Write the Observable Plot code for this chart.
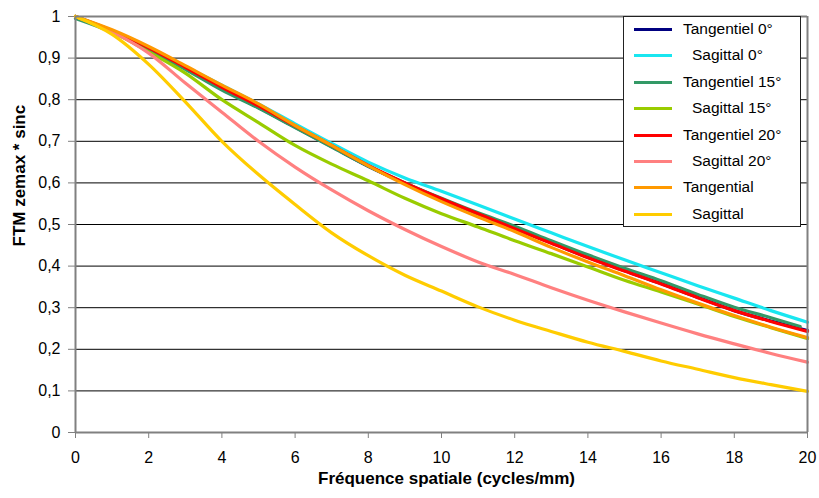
<!DOCTYPE html>
<html><head><meta charset="utf-8">
<script src="https://cdn.jsdelivr.net/npm/d3@7"></script>
<script src="https://cdn.jsdelivr.net/npm/@observablehq/plot@0.6"></script>
<style>
body{margin:0;background:#fff;font-family:"Liberation Sans",Arial,sans-serif;}
#wrap{position:relative;width:819px;height:498px;overflow:hidden;}
#legend{position:absolute;left:623px;top:16px;width:178px;height:211px;background:#fff;border:1px solid #222;box-sizing:border-box;}
.item{position:absolute;left:0;height:20px;width:176px;}
.item .sw{position:absolute;left:10px;top:9px;width:38px;height:3px;}
.item .lb{position:absolute;top:1px;font-size:15.5px;color:#000;white-space:pre;}
</style></head><body><div id="wrap"></div>
<script>
const freq    = [0,1,2,3,4,5,6,7,8,9,10,11,12,13,14,15,16,17,18,19,20];
const freqT15 = [0,1,2,3,4,5,6,7,8,9,10,11,12,13,14,15,16,17,18,19,19.8];

const seriesNames  = ["Tangentiel 0°","Sagittal 0°","Tangentiel 15°","Sagittal 15°","Tangentiel 20°","Sagittal 20°","Tangential","Sagittal"];
const seriesColors = ["#000080","#19E6F0","#339966","#99CC00","#FF0000","#FF8080","#FF9900","#FFCC00"];
const legendIndent = [0,1,0,1,0,1,0,1];

const tangentiel0  = [1,0.964,0.922,0.875,0.826,0.781,0.734,0.687,0.640,0.599,0.561,0.525,0.491,0.456,0.421,0.389,0.358,0.325,0.293,0.268,0.245];
const sagittal0    = [1,0.966,0.925,0.880,0.835,0.790,0.742,0.695,0.650,0.612,0.580,0.547,0.513,0.480,0.447,0.415,0.384,0.353,0.323,0.293,0.265];
const tangentiel15 = [0.995,0.962,0.920,0.873,0.823,0.780,0.733,0.686,0.640,0.600,0.563,0.528,0.496,0.461,0.427,0.395,0.365,0.332,0.301,0.276,0.255];
const sagittal15   = [1,0.963,0.915,0.864,0.800,0.745,0.690,0.645,0.605,0.563,0.526,0.494,0.461,0.430,0.398,0.366,0.338,0.309,0.279,0.252,0.226];
const tangentiel20 = [1,0.966,0.925,0.878,0.830,0.785,0.737,0.690,0.642,0.600,0.562,0.526,0.490,0.455,0.420,0.388,0.357,0.324,0.293,0.267,0.243];
const sagittal20   = [1,0.963,0.912,0.840,0.770,0.700,0.638,0.583,0.533,0.488,0.447,0.410,0.380,0.348,0.318,0.290,0.263,0.237,0.213,0.190,0.169];
const tangential   = [1,0.968,0.928,0.882,0.835,0.790,0.738,0.690,0.641,0.596,0.555,0.518,0.483,0.445,0.410,0.377,0.343,0.311,0.281,0.253,0.228];
const sagittal     = [1,0.957,0.885,0.795,0.700,0.620,0.548,0.480,0.425,0.378,0.340,0.302,0.270,0.243,0.217,0.195,0.172,0.152,0.132,0.115,0.099];

const yTicks = [0,0.1,0.2,0.3,0.4,0.5,0.6,0.7,0.8,0.9,1];
const xTicks = [0,2,4,6,8,10,12,14,16,18,20];

const seriesValues = [tangentiel0,sagittal0,tangentiel15,sagittal15,tangentiel20,sagittal20,tangential,sagittal];
const seriesX = [freq,freq,freqT15,freq,freq,freq,freq,freq];

const rows = [];
seriesNames.forEach((name,i)=>{
  seriesValues[i].forEach((v,j)=>rows.push({name, x: seriesX[i][j], y: v}));
});

const fmt = d => String(d).replace(".", ",");

const chart = Plot.plot({
  width: 819, height: 498,
  marginLeft: 75, marginRight: 12, marginTop: 16, marginBottom: 66,
  style: {fontFamily: '"Liberation Sans", Arial, sans-serif', fontSize: "16px", background: "#fff", color: "#000"},
  x: {domain: [0,20]},
  y: {domain: [0,1]},
  color: {domain: seriesNames, range: seriesColors},
  marks: [
    Plot.ruleY(yTicks.filter(d => d > 0 && d < 1), {stroke: "#000", strokeWidth: 1}),
    Plot.axisY({ticks: yTicks, tickFormat: fmt, tickSize: 7, tickPadding: 8, stroke: "#808080", label: null, fontSize: 16}),
    Plot.axisX({ticks: xTicks, tickSize: 6, tickPadding: 13, stroke: "#808080", label: null, fontSize: 16}),
    Plot.text(["FTM zemax * sinc"], {frameAnchor: "left", dx: -56, dy: 22, rotate: -90, fontWeight: "bold", fontSize: 17}),
    Plot.text(["Fréquence spatiale (cycles/mm)"], {frameAnchor: "bottom", dx: 5, dy: 51, fontWeight: "bold", fontSize: 17}),
    Plot.line(rows, {x: "x", y: "y", z: "name", stroke: "name", strokeWidth: 3.2, curve: "monotone-x"}),
    Plot.ruleY([1], {stroke: "#808080", strokeWidth: 2}),
    Plot.ruleX([20], {stroke: "#808080", strokeWidth: 2}),
    Plot.ruleX([0], {stroke: "#808080", strokeWidth: 2}),
    Plot.ruleY([0], {stroke: "#808080", strokeWidth: 2})
  ]
});

const wrap = document.getElementById("wrap");
wrap.appendChild(chart);

const legend = document.createElement("div");
legend.id = "legend";
seriesNames.forEach((name,i)=>{
  const it = document.createElement("div");
  it.className = "item";
  it.style.top = (2 + i*26.4) + "px";
  const sw = document.createElement("div");
  sw.className = "sw";
  sw.style.background = seriesColors[i];
  const lb = document.createElement("div");
  lb.className = "lb";
  lb.style.left = (legendIndent[i] ? 68 : 59) + "px";
  lb.textContent = name;
  it.appendChild(sw); it.appendChild(lb);
  legend.appendChild(it);
});
wrap.appendChild(legend);
</script>
</body></html>
